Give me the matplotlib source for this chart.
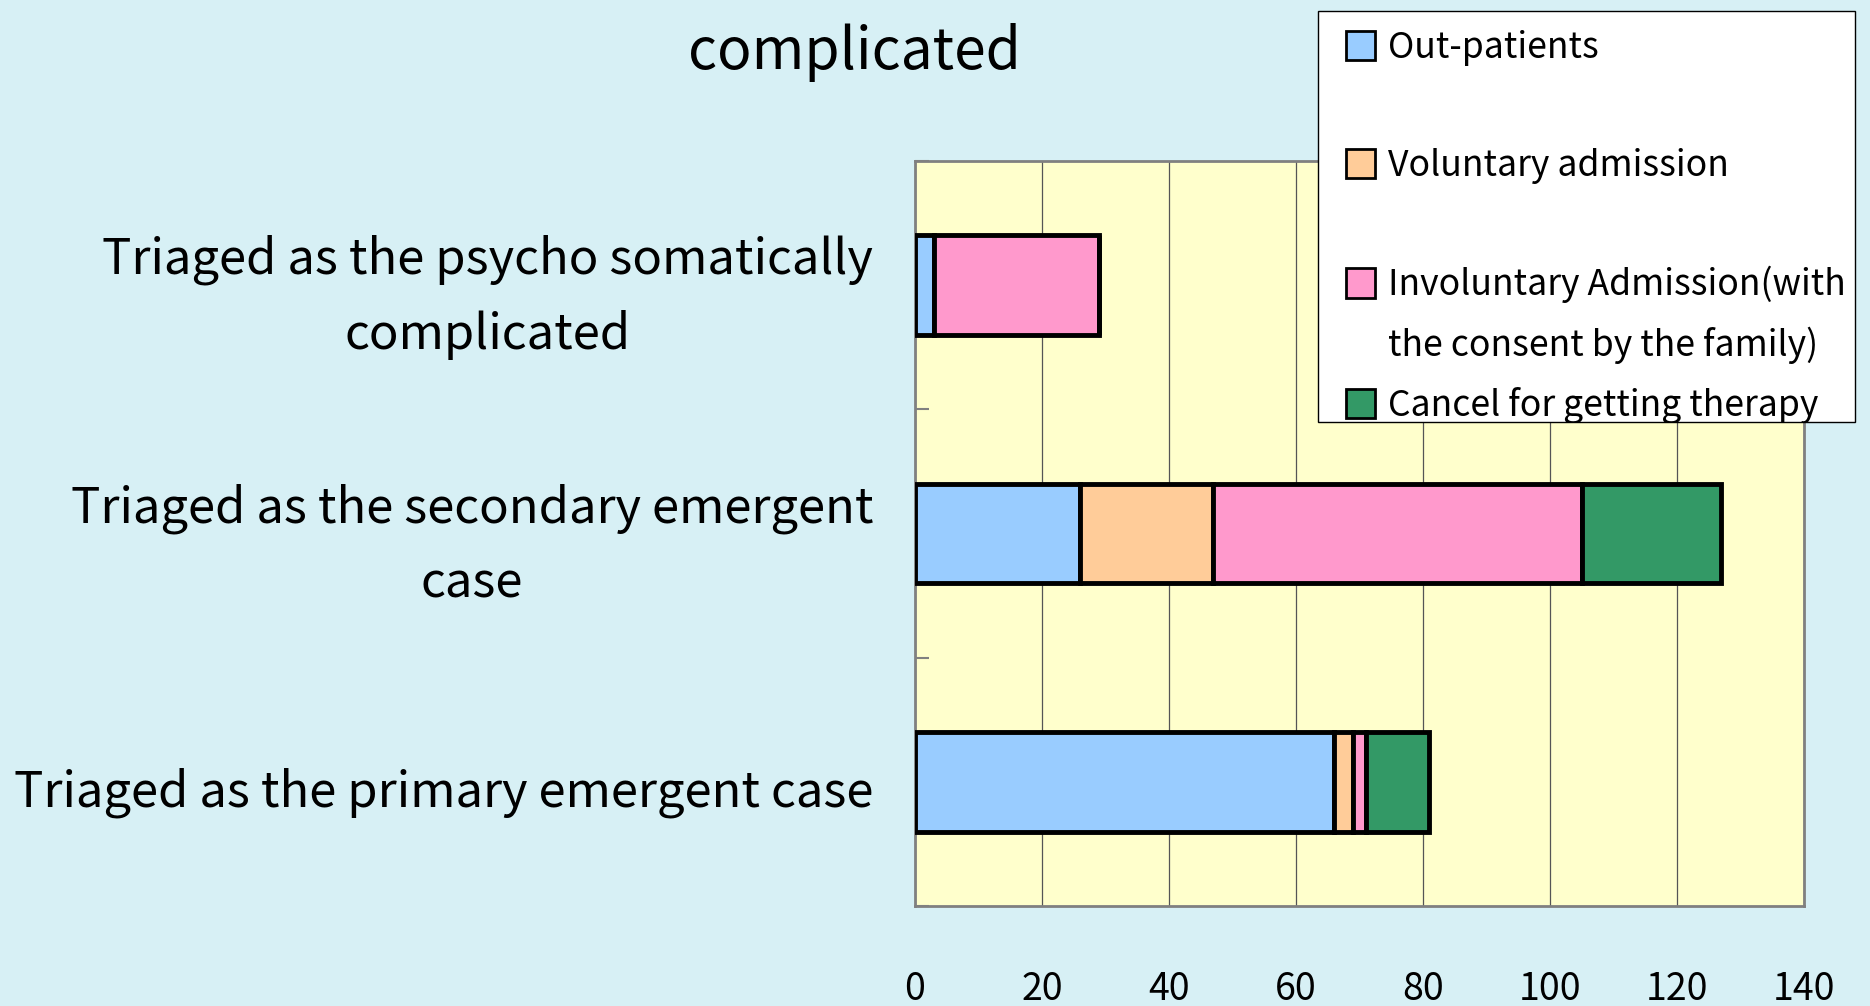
import matplotlib
matplotlib.use("Agg")
import matplotlib.pyplot as plt
from matplotlib.patches import Rectangle
from matplotlib.transforms import Bbox, TransformedBbox, ScaledTranslation
import numpy as np

plt.rcParams['font.family'] = ['Noto Sans CJK JP', 'DejaVu Sans']

# categories, bottom to top
categories = ["Triaged as the primary emergent case",
              "Triaged as the secondary emergent\ncase",
              "Triaged as the psycho somatically\ncomplicated"]

series_names = ["Out-patients", "Voluntary admission",
                "Involuntary Admission(with the consent by the family)",
                "Cancel for getting therapy"]

# counts per category (same order as categories)
out_patients = [66, 26, 3]
voluntary = [3, 21, 0]
involuntary = [2, 58, 26]
cancel = [10, 22, 0]

colors = ["#99CCFF", "#FFCC99", "#FF99CC", "#339966"]
x_ticks = [0, 20, 40, 60, 80, 100, 120, 140]

W, H = 1870, 1006
fig = plt.figure(figsize=(W / 100, H / 100), dpi=100, facecolor="#D7F0F5")
ax = fig.add_axes([915 / W, 1 - 906 / H, 889 / W, 745 / H])
ax.set_facecolor("#FFFFCC")

y = np.arange(len(categories))
left = np.zeros(len(categories))
bars = []
for vals, c, name in zip([out_patients, voluntary, involuntary, cancel], colors, series_names):
    b = ax.barh(y, vals, left=left, height=0.4, color=c, edgecolor="black",
                linewidth=3.5, label=name, zorder=3)
    bars.append(b)
    left += np.array(vals)

ax.set_xlim(0, 140)
ax.set_ylim(-0.5, 2.5)
ax.set_xticks(x_ticks)
ax.tick_params(axis="x", length=0, pad=46, labelsize=27)
ax.grid(axis="x", color="#555555", linewidth=0.9, zorder=0)
ax.set_axisbelow(True)

ax.set_yticks(y, categories, fontsize=35.3)
ax.tick_params(axis="y", which="major", length=0, pad=30)
ax.set_yticks([-0.5, 0.5, 1.5, 2.5], minor=True)
ax.tick_params(axis="y", which="minor", direction="in", length=10,
               color="#808080", width=1.5)
for t in ax.get_yticklabels():
    t.set_multialignment("center")
    t.set_linespacing(1.65)
    dy = 6 if "\n" in t.get_text() else -5
    t.set_transform(t.get_transform() + ScaledTranslation(0, dy / 100, fig.dpi_scale_trans))

for s in ax.spines.values():
    s.set_color("#808080")
    s.set_linewidth(2)

fig.text(854 / W, 1 - 52 / H, "complicated", ha="center", va="center", fontsize=41)

# legend box (clipped at the bottom like the original)
box = Rectangle((1318 / W, 1 - 422 / H), (1855 - 1318) / W, (422 - 11) / H,
                transform=fig.transFigure, facecolor="white", edgecolor="black",
                linewidth=1, zorder=4)
fig.add_artist(box)

blank1 = Rectangle((0, 0), 1, 1, facecolor="none", edgecolor="none")
blank2 = Rectangle((0, 0), 1, 1, facecolor="none", edgecolor="none")
blank3 = Rectangle((0, 0), 1, 1, facecolor="none", edgecolor="none")
handles = [bars[0], blank1, bars[1], blank2, bars[2], blank3, bars[3]]
labels = ["Out-patients", "", "Voluntary admission", "",
          "Involuntary Admission(with", "the consent by the family)",
          "Cancel for getting therapy"]
fs = 25.6
fpx = fs * 100 / 72
leg = fig.legend(handles, labels, loc="upper left",
                 bbox_to_anchor=(1346 / W, 1 - 30 / H), frameon=False,
                 borderpad=0, borderaxespad=0, fontsize=fs,
                 handlelength=29 / fpx, handleheight=32 / fpx,
                 handletextpad=13 / fpx, labelspacing=23.0 / fpx)
leg.set_zorder(6)
clip = TransformedBbox(Bbox([[1318 / W, 1 - 422 / H], [1855 / W, 1 - 11 / H]]),
                       fig.transFigure)
for t in leg.get_texts():
    t.set_clip_box(clip)
    t.set_clip_on(True)
for h in leg.legend_handles:
    h.set_clip_box(clip)
    h.set_clip_on(True)
    h.set_linewidth(2)

fig.savefig("out.png", dpi=100, facecolor=fig.get_facecolor())
